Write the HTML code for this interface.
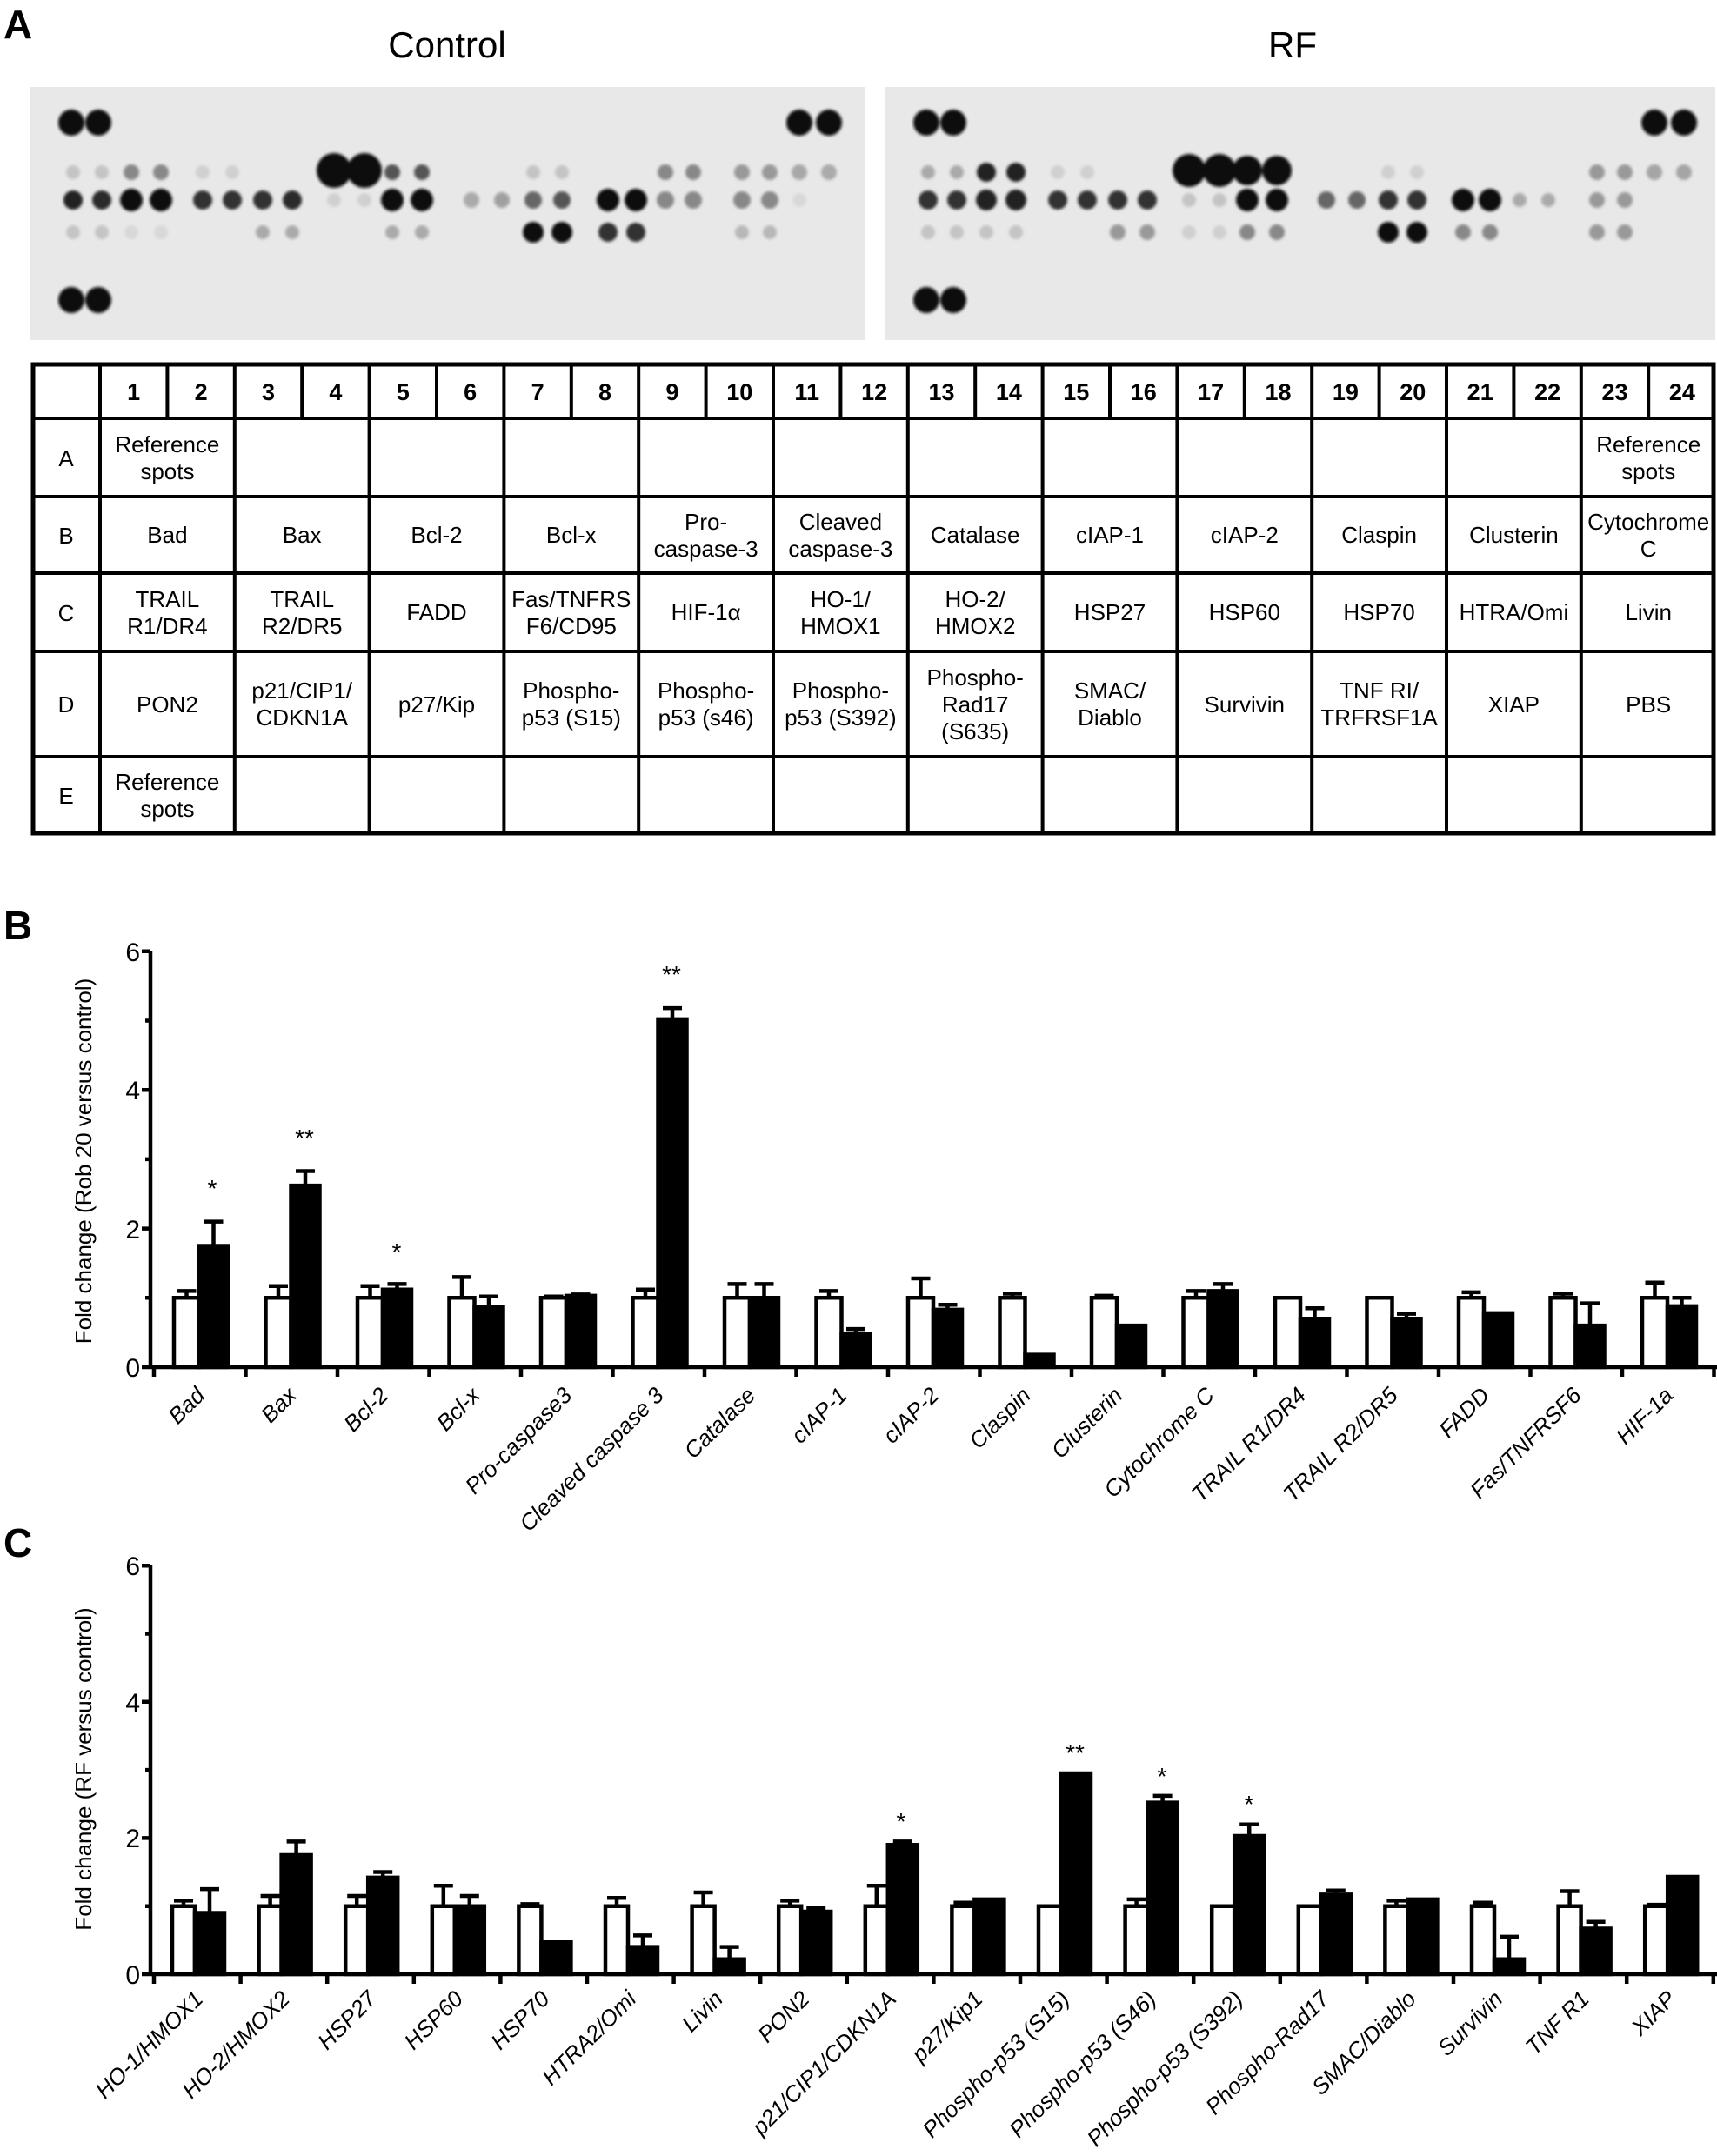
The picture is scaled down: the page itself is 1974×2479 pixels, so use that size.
<!DOCTYPE html>
<html><head><meta charset="utf-8"><style>
html,body{margin:0;padding:0;background:#fff}
svg{display:block}
text{font-family:"Liberation Sans",Arial,sans-serif;fill:#000}
.w{fill:#fff;stroke:#000;stroke-width:4.5;vector-effect:non-scaling-stroke}
.b{fill:#000;stroke:#000;stroke-width:4.5;vector-effect:non-scaling-stroke}
.e{fill:none;stroke:#000;stroke-width:4.5;vector-effect:non-scaling-stroke}
.ax{stroke:#000;stroke-width:4.5;fill:none}
.xl{font-style:italic;font-size:26px}
.yl{font-size:30px}
.tb{font-size:26px}
.hd{font-size:27px;font-weight:bold}
.tl{stroke:#000;stroke-width:4;fill:none}
</style></head><body>
<svg width="1974" height="2479" viewBox="0 0 1974 2479" xmlns="http://www.w3.org/2000/svg">
<defs><filter id="bl"><feGaussianBlur stdDeviation="1.6"/></filter></defs>
<rect width="1974" height="2479" fill="#fff"/>

<!-- Panel A -->
<text x="4" y="44" font-size="46" font-weight="bold">A</text>
<text x="514" y="66" font-size="42" text-anchor="middle">Control</text>
<text x="1486" y="66" font-size="42" text-anchor="middle">RF</text>
<rect x="35" y="100" width="959" height="291" fill="#e8e8e8"/>
<rect x="1018" y="100" width="954" height="291" fill="#e8e8e8"/>
<g filter="url(#bl)">
<g fill="#111">
<circle cx="82" cy="141" r="15"/><circle cx="113" cy="141" r="15"/><circle cx="919" cy="141" r="15"/><circle cx="953" cy="141" r="15"/>
<circle cx="82" cy="345" r="15"/><circle cx="113" cy="345" r="15"/>
<circle cx="384" cy="196" r="20"/><circle cx="419" cy="196" r="20"/>
<circle cx="151" cy="230" r="13"/><circle cx="185" cy="230" r="13"/><circle cx="451" cy="230" r="13"/><circle cx="485" cy="230" r="13"/>
<circle cx="699" cy="230" r="13"/><circle cx="731" cy="230" r="13"/>
<circle cx="613" cy="267" r="12"/><circle cx="646" cy="267" r="12"/>
</g>
<circle cx="84" cy="198" r="8" fill="#c4c4c4"/><circle cx="117" cy="198" r="8" fill="#c4c4c4"/>
<circle cx="151" cy="198" r="9" fill="#888"/><circle cx="185" cy="198" r="9" fill="#888"/>
<circle cx="233" cy="198" r="8" fill="#d0d0d0"/><circle cx="267" cy="198" r="8" fill="#d0d0d0"/>
<circle cx="451" cy="198" r="9" fill="#555"/><circle cx="485" cy="198" r="9" fill="#555"/>
<circle cx="613" cy="198" r="8" fill="#c4c4c4"/><circle cx="646" cy="198" r="8" fill="#c4c4c4"/>
<circle cx="765" cy="198" r="9" fill="#888"/><circle cx="797" cy="198" r="9" fill="#888"/>
<circle cx="853" cy="198" r="9" fill="#999"/><circle cx="885" cy="198" r="9" fill="#999"/>
<circle cx="919" cy="198" r="9" fill="#a8a8a8"/><circle cx="953" cy="198" r="9" fill="#aaa"/>
<circle cx="84" cy="230" r="11" fill="#222"/><circle cx="117" cy="230" r="11" fill="#2a2a2a"/>
<circle cx="233" cy="230" r="11" fill="#333"/><circle cx="267" cy="230" r="11" fill="#333"/>
<circle cx="302" cy="230" r="11" fill="#333"/><circle cx="336" cy="230" r="11" fill="#2a2a2a"/>
<circle cx="384" cy="230" r="8" fill="#d0d0d0"/><circle cx="419" cy="230" r="8" fill="#d0d0d0"/>
<circle cx="542" cy="230" r="9" fill="#aaa"/><circle cx="577" cy="230" r="9" fill="#a0a0a0"/>
<circle cx="613" cy="230" r="10" fill="#666"/><circle cx="646" cy="230" r="10" fill="#555"/>
<circle cx="765" cy="230" r="10" fill="#888"/><circle cx="797" cy="230" r="10" fill="#888"/>
<circle cx="853" cy="230" r="10" fill="#888"/><circle cx="885" cy="230" r="10" fill="#888"/>
<circle cx="919" cy="230" r="8" fill="#d8d8d8"/>
<circle cx="84" cy="267" r="8" fill="#c4c4c4"/><circle cx="117" cy="267" r="8" fill="#c4c4c4"/>
<circle cx="151" cy="267" r="8" fill="#d8d8d8"/><circle cx="185" cy="267" r="8" fill="#d8d8d8"/>
<circle cx="302" cy="267" r="8" fill="#aaa"/><circle cx="336" cy="267" r="8" fill="#aaa"/>
<circle cx="451" cy="267" r="8" fill="#aaa"/><circle cx="485" cy="267" r="8" fill="#aaa"/>
<circle cx="699" cy="267" r="11" fill="#333"/><circle cx="731" cy="267" r="11" fill="#333"/>
<circle cx="853" cy="267" r="8" fill="#b8b8b8"/><circle cx="885" cy="267" r="8" fill="#b8b8b8"/>
<g fill="#111">
<circle cx="1065" cy="141" r="15"/><circle cx="1096" cy="141" r="15"/><circle cx="1902" cy="141" r="15"/><circle cx="1936" cy="141" r="15"/>
<circle cx="1065" cy="345" r="15"/><circle cx="1096" cy="345" r="15"/>
<circle cx="1367" cy="196" r="19"/><circle cx="1402" cy="196" r="19"/><circle cx="1434" cy="196" r="17"/><circle cx="1468" cy="196" r="17"/>
<circle cx="1434" cy="230" r="13"/><circle cx="1468" cy="230" r="13"/><circle cx="1682" cy="230" r="13"/><circle cx="1713" cy="230" r="13"/>
<circle cx="1596" cy="267" r="12"/><circle cx="1629" cy="267" r="12"/>
</g>
<circle cx="1067" cy="198" r="8" fill="#aaa"/><circle cx="1100" cy="198" r="8" fill="#aaa"/>
<circle cx="1134" cy="198" r="11" fill="#222"/><circle cx="1168" cy="198" r="11" fill="#222"/>
<circle cx="1216" cy="198" r="8" fill="#d0d0d0"/><circle cx="1250" cy="198" r="8" fill="#d0d0d0"/>
<circle cx="1596" cy="198" r="8" fill="#d0d0d0"/><circle cx="1629" cy="198" r="8" fill="#d0d0d0"/>
<circle cx="1836" cy="198" r="9" fill="#999"/><circle cx="1868" cy="198" r="9" fill="#999"/>
<circle cx="1902" cy="198" r="9" fill="#a5a5a5"/><circle cx="1936" cy="198" r="9" fill="#a5a5a5"/>
<circle cx="1067" cy="230" r="11" fill="#333"/><circle cx="1100" cy="230" r="11" fill="#333"/>
<circle cx="1134" cy="230" r="12" fill="#222"/><circle cx="1168" cy="230" r="12" fill="#222"/>
<circle cx="1216" cy="230" r="11" fill="#333"/><circle cx="1250" cy="230" r="11" fill="#333"/>
<circle cx="1285" cy="230" r="11" fill="#333"/><circle cx="1319" cy="230" r="11" fill="#333"/>
<circle cx="1367" cy="230" r="8" fill="#c4c4c4"/><circle cx="1402" cy="230" r="8" fill="#c4c4c4"/>
<circle cx="1525" cy="230" r="10" fill="#666"/><circle cx="1560" cy="230" r="10" fill="#666"/>
<circle cx="1596" cy="230" r="11" fill="#333"/><circle cx="1629" cy="230" r="11" fill="#333"/>
<circle cx="1747" cy="230" r="8" fill="#aaa"/><circle cx="1780" cy="230" r="8" fill="#aaa"/>
<circle cx="1836" cy="230" r="9" fill="#999"/><circle cx="1868" cy="230" r="9" fill="#999"/>
<circle cx="1067" cy="267" r="8" fill="#c4c4c4"/><circle cx="1100" cy="267" r="8" fill="#c4c4c4"/>
<circle cx="1134" cy="267" r="8" fill="#c4c4c4"/><circle cx="1168" cy="267" r="8" fill="#c4c4c4"/>
<circle cx="1285" cy="267" r="9" fill="#999"/><circle cx="1319" cy="267" r="9" fill="#999"/>
<circle cx="1367" cy="267" r="8" fill="#d0d0d0"/><circle cx="1402" cy="267" r="8" fill="#d0d0d0"/>
<circle cx="1434" cy="267" r="9" fill="#888"/><circle cx="1468" cy="267" r="9" fill="#888"/>
<circle cx="1682" cy="267" r="9" fill="#888"/><circle cx="1713" cy="267" r="9" fill="#888"/>
<circle cx="1836" cy="267" r="9" fill="#999"/><circle cx="1868" cy="267" r="9" fill="#999"/>
</g>

<!-- Table -->
<rect x="38" y="419" width="1932" height="539" fill="none" stroke="#000" stroke-width="5"/>
<path class="tl" d="M38 481H1970M38 571H1970M38 659H1970M38 749H1970M38 870H1970
M115 419V958M269.8 419V958M424.6 419V958M579.4 419V958M734.2 419V958M889 419V958M1043.8 419V958M1198.6 419V958M1353.4 419V958M1508.2 419V958M1663 419V958M1817.8 419V958
M192.4 419V481M347.2 419V481M502 419V481M656.8 419V481M811.6 419V481M966.4 419V481M1121.2 419V481M1276 419V481M1430.8 419V481M1585.6 419V481M1740.4 419V481M1895.2 419V481"/>
<g class="hd" text-anchor="middle">
<text x="153.7" y="460">1</text><text x="231.1" y="460">2</text><text x="308.5" y="460">3</text><text x="385.9" y="460">4</text>
<text x="463.3" y="460">5</text><text x="540.7" y="460">6</text><text x="618.1" y="460">7</text><text x="695.5" y="460">8</text>
<text x="772.9" y="460">9</text><text x="850.3" y="460">10</text><text x="927.7" y="460">11</text><text x="1005.1" y="460">12</text>
<text x="1082.5" y="460">13</text><text x="1159.9" y="460">14</text><text x="1237.3" y="460">15</text><text x="1314.7" y="460">16</text>
<text x="1392.1" y="460">17</text><text x="1469.5" y="460">18</text><text x="1546.9" y="460">19</text><text x="1624.3" y="460">20</text>
<text x="1701.7" y="460">21</text><text x="1779.1" y="460">22</text><text x="1856.5" y="460">23</text><text x="1933.9" y="460">24</text>
</g>
<g class="tb" text-anchor="middle">
<text x="76" y="536">A</text><text x="76" y="625">B</text><text x="76" y="714">C</text><text x="76" y="819">D</text><text x="76" y="924">E</text>
<text x="192.4" y="520">Reference</text><text x="192.4" y="551">spots</text>
<text x="1895.2" y="520">Reference</text><text x="1895.2" y="551">spots</text>
<text x="192.4" y="624">Bad</text><text x="347.2" y="624">Bax</text><text x="502" y="624">Bcl-2</text><text x="656.8" y="624">Bcl-x</text>
<text x="811.6" y="609">Pro-</text><text x="811.6" y="640">caspase-3</text>
<text x="966.4" y="609">Cleaved</text><text x="966.4" y="640">caspase-3</text>
<text x="1121.2" y="624">Catalase</text><text x="1276" y="624">cIAP-1</text><text x="1430.8" y="624">cIAP-2</text>
<text x="1585.6" y="624">Claspin</text><text x="1740.4" y="624">Clusterin</text>
<text x="1895.2" y="609">Cytochrome</text><text x="1895.2" y="640">C</text>
<text x="192.4" y="698">TRAIL</text><text x="192.4" y="729">R1/DR4</text>
<text x="347.2" y="698">TRAIL</text><text x="347.2" y="729">R2/DR5</text>
<text x="502" y="713">FADD</text>
<text x="656.8" y="698">Fas/TNFRS</text><text x="656.8" y="729">F6/CD95</text>
<text x="811.6" y="713">HIF-1α</text>
<text x="966.4" y="698">HO-1/</text><text x="966.4" y="729">HMOX1</text>
<text x="1121.2" y="698">HO-2/</text><text x="1121.2" y="729">HMOX2</text>
<text x="1276" y="713">HSP27</text><text x="1430.8" y="713">HSP60</text><text x="1585.6" y="713">HSP70</text>
<text x="1740.4" y="713">HTRA/Omi</text><text x="1895.2" y="713">Livin</text>
<text x="192.4" y="819">PON2</text>
<text x="347.2" y="803">p21/CIP1/</text><text x="347.2" y="834">CDKN1A</text>
<text x="502" y="819">p27/Kip</text>
<text x="656.8" y="803">Phospho-</text><text x="656.8" y="834">p53 (S15)</text>
<text x="811.6" y="803">Phospho-</text><text x="811.6" y="834">p53 (s46)</text>
<text x="966.4" y="803">Phospho-</text><text x="966.4" y="834">p53 (S392)</text>
<text x="1121.2" y="788">Phospho-</text><text x="1121.2" y="819">Rad17</text><text x="1121.2" y="850">(S635)</text>
<text x="1276" y="803">SMAC/</text><text x="1276" y="834">Diablo</text>
<text x="1430.8" y="819">Survivin</text>
<text x="1585.6" y="803">TNF RI/</text><text x="1585.6" y="834">TRFRSF1A</text>
<text x="1740.4" y="819">XIAP</text><text x="1895.2" y="819">PBS</text>
<text x="192.4" y="908">Reference</text><text x="192.4" y="939">spots</text>
</g>

<!-- Panel B -->
<text x="4" y="1080" font-size="46" font-weight="bold">B</text>
<text transform="translate(105,1335) rotate(-90)" text-anchor="middle" font-size="26">Fold change (Rob 20 versus control)</text>
<g class="yl" text-anchor="end">
<text x="161" y="1583">0</text><text x="161" y="1424">2</text><text x="161" y="1264">4</text><text x="161" y="1105">6</text>
</g>
<path class="ax" d="M173 1094V1574M163 1572H173M163 1412.6H173M163 1253.2H173M163 1093.8H173M167 1492.3H173M167 1332.9H173M167 1173.5H173
M171 1572H1974M177 1572V1583M282.5 1572V1583M388 1572V1583M493.5 1572V1583M599 1572V1583M704.5 1572V1583M810 1572V1583M915.5 1572V1583M1021 1572V1583M1126.5 1572V1583M1232 1572V1583M1337.5 1572V1583M1443 1572V1583M1548.5 1572V1583M1654 1572V1583M1759.5 1572V1583M1865 1572V1583M1970.5 1572V1583"/>

<g transform="translate(177,1572) scale(1,-79.7)"><rect class="w" x="23" width="29" height="1"/><path class="e" d="M37.5 1V1.1M26.5 1.1H48.5"/><rect class="b" x="52" width="33" height="1.75"/><path class="e" d="M68.5 1.75V2.1M57.5 2.1H79.5"/></g>
<g transform="translate(282.5,1572) scale(1,-79.7)"><rect class="w" x="23" width="29" height="1"/><path class="e" d="M37.5 1V1.17M26.5 1.17H48.5"/><rect class="b" x="52" width="33" height="2.62"/><path class="e" d="M68.5 2.62V2.83M57.5 2.83H79.5"/></g>
<g transform="translate(388,1572) scale(1,-79.7)"><rect class="w" x="23" width="29" height="1"/><path class="e" d="M37.5 1V1.17M26.5 1.17H48.5"/><rect class="b" x="52" width="33" height="1.12"/><path class="e" d="M68.5 1.12V1.2M57.5 1.2H79.5"/></g>
<g transform="translate(493.5,1572) scale(1,-79.7)"><rect class="w" x="23" width="29" height="1"/><path class="e" d="M37.5 1V1.3M26.5 1.3H48.5"/><rect class="b" x="52" width="33" height="0.87"/><path class="e" d="M68.5 0.87V1.02M57.5 1.02H79.5"/></g>
<g transform="translate(599,1572) scale(1,-79.7)"><rect class="w" x="23" width="29" height="1"/><path class="e" d="M26.5 1.02H48.5"/><rect class="b" x="52" width="33" height="1.03"/><path class="e" d="M57.5 1.05H79.5"/></g>
<g transform="translate(704.5,1572) scale(1,-79.7)"><rect class="w" x="23" width="29" height="1"/><path class="e" d="M37.5 1V1.12M26.5 1.12H48.5"/><rect class="b" x="52" width="33" height="5.02"/><path class="e" d="M68.5 5.02V5.18M57.5 5.18H79.5"/></g>
<g transform="translate(810,1572) scale(1,-79.7)"><rect class="w" x="23" width="29" height="1"/><path class="e" d="M37.5 1V1.2M26.5 1.2H48.5"/><rect class="b" x="52" width="33" height="1"/><path class="e" d="M68.5 1V1.2M57.5 1.2H79.5"/></g>
<g transform="translate(915.5,1572) scale(1,-79.7)"><rect class="w" x="23" width="29" height="1"/><path class="e" d="M37.5 1V1.1M26.5 1.1H48.5"/><rect class="b" x="52" width="33" height="0.48"/><path class="e" d="M68.5 0.48V0.55M57.5 0.55H79.5"/></g>
<g transform="translate(1021,1572) scale(1,-79.7)"><rect class="w" x="23" width="29" height="1"/><path class="e" d="M37.5 1V1.28M26.5 1.28H48.5"/><rect class="b" x="52" width="33" height="0.83"/><path class="e" d="M68.5 0.83V0.9M57.5 0.9H79.5"/></g>
<g transform="translate(1126.5,1572) scale(1,-79.7)"><rect class="w" x="23" width="29" height="1"/><path class="e" d="M37.5 1V1.06M26.5 1.06H48.5"/><rect class="b" x="52" width="33" height="0.18"/></g>
<g transform="translate(1232,1572) scale(1,-79.7)"><rect class="w" x="23" width="29" height="1"/><path class="e" d="M26.5 1.03H48.5"/><rect class="b" x="52" width="33" height="0.6"/></g>
<g transform="translate(1337.5,1572) scale(1,-79.7)"><rect class="w" x="23" width="29" height="1"/><path class="e" d="M37.5 1V1.1M26.5 1.1H48.5"/><rect class="b" x="52" width="33" height="1.1"/><path class="e" d="M68.5 1.1V1.2M57.5 1.2H79.5"/></g>
<g transform="translate(1443,1572) scale(1,-79.7)"><rect class="w" x="23" width="29" height="1"/><rect class="b" x="52" width="33" height="0.7"/><path class="e" d="M68.5 0.7V0.85M57.5 0.85H79.5"/></g>
<g transform="translate(1548.5,1572) scale(1,-79.7)"><rect class="w" x="23" width="29" height="1"/><rect class="b" x="52" width="33" height="0.7"/><path class="e" d="M68.5 0.7V0.77M57.5 0.77H79.5"/></g>
<g transform="translate(1654,1572) scale(1,-79.7)"><rect class="w" x="23" width="29" height="1"/><path class="e" d="M37.5 1V1.08M26.5 1.08H48.5"/><rect class="b" x="52" width="33" height="0.78"/></g>
<g transform="translate(1759.5,1572) scale(1,-79.7)"><rect class="w" x="23" width="29" height="1"/><path class="e" d="M37.5 1V1.06M26.5 1.06H48.5"/><rect class="b" x="52" width="33" height="0.6"/><path class="e" d="M68.5 0.6V0.92M57.5 0.92H79.5"/></g>
<g transform="translate(1865,1572) scale(1,-79.7)"><rect class="w" x="23" width="29" height="1"/><path class="e" d="M37.5 1V1.22M26.5 1.22H48.5"/><rect class="b" x="52" width="33" height="0.88"/><path class="e" d="M68.5 0.88V1.0M57.5 1.0H79.5"/></g>

<g font-size="28" text-anchor="middle">
<text x="244" y="1376">*</text><text x="350" y="1318">**</text><text x="456" y="1449">*</text><text x="772" y="1130">**</text>
</g>
<g class="xl" text-anchor="end">
<text transform="translate(237,1606) rotate(-45)">Bad</text>
<text transform="translate(342.5,1606) rotate(-45)">Bax</text>
<text transform="translate(448,1606) rotate(-45)">Bcl-2</text>
<text transform="translate(553.5,1606) rotate(-45)">Bcl-x</text>
<text transform="translate(659,1606) rotate(-45)">Pro-caspase3</text>
<text transform="translate(764.5,1606) rotate(-45)">Cleaved caspase 3</text>
<text transform="translate(870,1606) rotate(-45)">Catalase</text>
<text transform="translate(975.5,1606) rotate(-45)">cIAP-1</text>
<text transform="translate(1081,1606) rotate(-45)">cIAP-2</text>
<text transform="translate(1186.5,1606) rotate(-45)">Claspin</text>
<text transform="translate(1292,1606) rotate(-45)">Clusterin</text>
<text transform="translate(1397.5,1606) rotate(-45)">Cytochrome C</text>
<text transform="translate(1503,1606) rotate(-45)">TRAIL R1/DR4</text>
<text transform="translate(1608.5,1606) rotate(-45)">TRAIL R2/DR5</text>
<text transform="translate(1714,1606) rotate(-45)">FADD</text>
<text transform="translate(1819.5,1606) rotate(-45)">Fas/TNFRSF6</text>
<text transform="translate(1925,1606) rotate(-45)">HIF-1a</text>
</g>

<!-- Panel C -->
<text x="4" y="1790" font-size="46" font-weight="bold">C</text>
<text transform="translate(105,2034) rotate(-90)" text-anchor="middle" font-size="26">Fold change (RF versus control)</text>
<g class="yl" text-anchor="end">
<text x="161" y="2281">0</text><text x="161" y="2124">2</text><text x="161" y="1968">4</text><text x="161" y="1811">6</text>
</g>
<path class="ax" d="M173 1800V2272M163 2270H173M163 2113.4H173M163 1956.8H173M163 1800.2H173M167 2191.7H173M167 2035.1H173M167 1878.5H173
M171 2270H1974M177 2270V2281M276.6 2270V2281M376.2 2270V2281M475.8 2270V2281M575.4 2270V2281M675 2270V2281M774.6 2270V2281M874.2 2270V2281M973.8 2270V2281M1073.4 2270V2281M1173 2270V2281M1272.6 2270V2281M1372.2 2270V2281M1471.8 2270V2281M1571.4 2270V2281M1671 2270V2281M1770.6 2270V2281M1870.2 2270V2281M1969.8 2270V2281"/>

<g transform="translate(177,2270) scale(1,-78.3)"><rect class="w" x="21" width="26" height="1"/><path class="e" d="M34 1V1.08M23 1.08H45"/><rect class="b" x="47" width="34" height="0.9"/><path class="e" d="M64 0.9V1.25M53 1.25H75"/></g>
<g transform="translate(276.6,2270) scale(1,-78.3)"><rect class="w" x="21" width="26" height="1"/><path class="e" d="M34 1V1.15M23 1.15H45"/><rect class="b" x="47" width="34" height="1.75"/><path class="e" d="M64 1.75V1.95M53 1.95H75"/></g>
<g transform="translate(376.2,2270) scale(1,-78.3)"><rect class="w" x="21" width="26" height="1"/><path class="e" d="M34 1V1.15M23 1.15H45"/><rect class="b" x="47" width="34" height="1.42"/><path class="e" d="M64 1.42V1.5M53 1.5H75"/></g>
<g transform="translate(475.8,2270) scale(1,-78.3)"><rect class="w" x="21" width="26" height="1"/><path class="e" d="M34 1V1.3M23 1.3H45"/><rect class="b" x="47" width="34" height="1"/><path class="e" d="M64 1V1.15M53 1.15H75"/></g>
<g transform="translate(575.4,2270) scale(1,-78.3)"><rect class="w" x="21" width="26" height="1"/><path class="e" d="M23 1.03H45"/><rect class="b" x="47" width="34" height="0.47"/></g>
<g transform="translate(675,2270) scale(1,-78.3)"><rect class="w" x="21" width="26" height="1"/><path class="e" d="M34 1V1.12M23 1.12H45"/><rect class="b" x="47" width="34" height="0.4"/><path class="e" d="M64 0.4V0.57M53 0.57H75"/></g>
<g transform="translate(774.6,2270) scale(1,-78.3)"><rect class="w" x="21" width="26" height="1"/><path class="e" d="M34 1V1.2M23 1.2H45"/><rect class="b" x="47" width="34" height="0.22"/><path class="e" d="M64 0.22V0.4M53 0.4H75"/></g>
<g transform="translate(874.2,2270) scale(1,-78.3)"><rect class="w" x="21" width="26" height="1"/><path class="e" d="M34 1V1.08M23 1.08H45"/><rect class="b" x="47" width="34" height="0.92"/><path class="e" d="M64 0.92V0.97M53 0.97H75"/></g>
<g transform="translate(973.8,2270) scale(1,-78.3)"><rect class="w" x="21" width="26" height="1"/><path class="e" d="M34 1V1.3M23 1.3H45"/><rect class="b" x="47" width="34" height="1.9"/><path class="e" d="M64 1.9V1.95M53 1.95H75"/></g>
<g transform="translate(1073.4,2270) scale(1,-78.3)"><rect class="w" x="21" width="26" height="1"/><path class="e" d="M34 1V1.05M23 1.05H45"/><rect class="b" x="47" width="34" height="1.1"/></g>
<g transform="translate(1173,2270) scale(1,-78.3)"><rect class="w" x="21" width="26" height="1"/><rect class="b" x="47" width="34" height="2.95"/></g>
<g transform="translate(1272.6,2270) scale(1,-78.3)"><rect class="w" x="21" width="26" height="1"/><path class="e" d="M34 1V1.1M23 1.1H45"/><rect class="b" x="47" width="34" height="2.52"/><path class="e" d="M64 2.52V2.62M53 2.62H75"/></g>
<g transform="translate(1372.2,2270) scale(1,-78.3)"><rect class="w" x="21" width="26" height="1"/><rect class="b" x="47" width="34" height="2.03"/><path class="e" d="M64 2.03V2.2M53 2.2H75"/></g>
<g transform="translate(1471.8,2270) scale(1,-78.3)"><rect class="w" x="21" width="26" height="1"/><rect class="b" x="47" width="34" height="1.17"/><path class="e" d="M64 1.17V1.23M53 1.23H75"/></g>
<g transform="translate(1571.4,2270) scale(1,-78.3)"><rect class="w" x="21" width="26" height="1"/><path class="e" d="M34 1V1.08M23 1.08H45"/><rect class="b" x="47" width="34" height="1.1"/></g>
<g transform="translate(1671,2270) scale(1,-78.3)"><rect class="w" x="21" width="26" height="1"/><path class="e" d="M34 1V1.05M23 1.05H45"/><rect class="b" x="47" width="34" height="0.22"/><path class="e" d="M64 0.22V0.55M53 0.55H75"/></g>
<g transform="translate(1770.6,2270) scale(1,-78.3)"><rect class="w" x="21" width="26" height="1"/><path class="e" d="M34 1V1.22M23 1.22H45"/><rect class="b" x="47" width="34" height="0.67"/><path class="e" d="M64 0.67V0.77M53 0.77H75"/></g>
<g transform="translate(1870.2,2270) scale(1,-78.3)"><rect class="w" x="21" width="26" height="1"/><path class="e" d="M23 1.02H45"/><rect class="b" x="47" width="34" height="1.43"/></g>

<g font-size="28" text-anchor="middle">
<text x="1036" y="2104">*</text><text x="1236" y="2025">**</text><text x="1336" y="2052">*</text><text x="1436" y="2084">*</text>
</g>
<g class="xl" text-anchor="end">
<text transform="translate(235,2300) rotate(-45)">HO-1/HMOX1</text>
<text transform="translate(334.6,2300) rotate(-45)">HO-2/HMOX2</text>
<text transform="translate(434.2,2300) rotate(-45)">HSP27</text>
<text transform="translate(533.8,2300) rotate(-45)">HSP60</text>
<text transform="translate(633.4,2300) rotate(-45)">HSP70</text>
<text transform="translate(733,2300) rotate(-45)">HTRA2/Omi</text>
<text transform="translate(832.6,2300) rotate(-45)">Livin</text>
<text transform="translate(932.2,2300) rotate(-45)">PON2</text>
<text transform="translate(1031.8,2300) rotate(-45)">p21/CIP1/CDKN1A</text>
<text transform="translate(1131.4,2300) rotate(-45)">p27/Kip1</text>
<text transform="translate(1231,2300) rotate(-45)">Phospho-p53 (S15)</text>
<text transform="translate(1330.6,2300) rotate(-45)">Phospho-p53 (S46)</text>
<text transform="translate(1430.2,2300) rotate(-45)">Phospho-p53 (S392)</text>
<text transform="translate(1529.8,2300) rotate(-45)">Phospho-Rad17</text>
<text transform="translate(1629.4,2300) rotate(-45)">SMAC/Diablo</text>
<text transform="translate(1729,2300) rotate(-45)">Survivin</text>
<text transform="translate(1828.6,2300) rotate(-45)">TNF R1</text>
<text transform="translate(1928.2,2300) rotate(-45)">XIAP</text>
</g>
</svg>
</body></html>
